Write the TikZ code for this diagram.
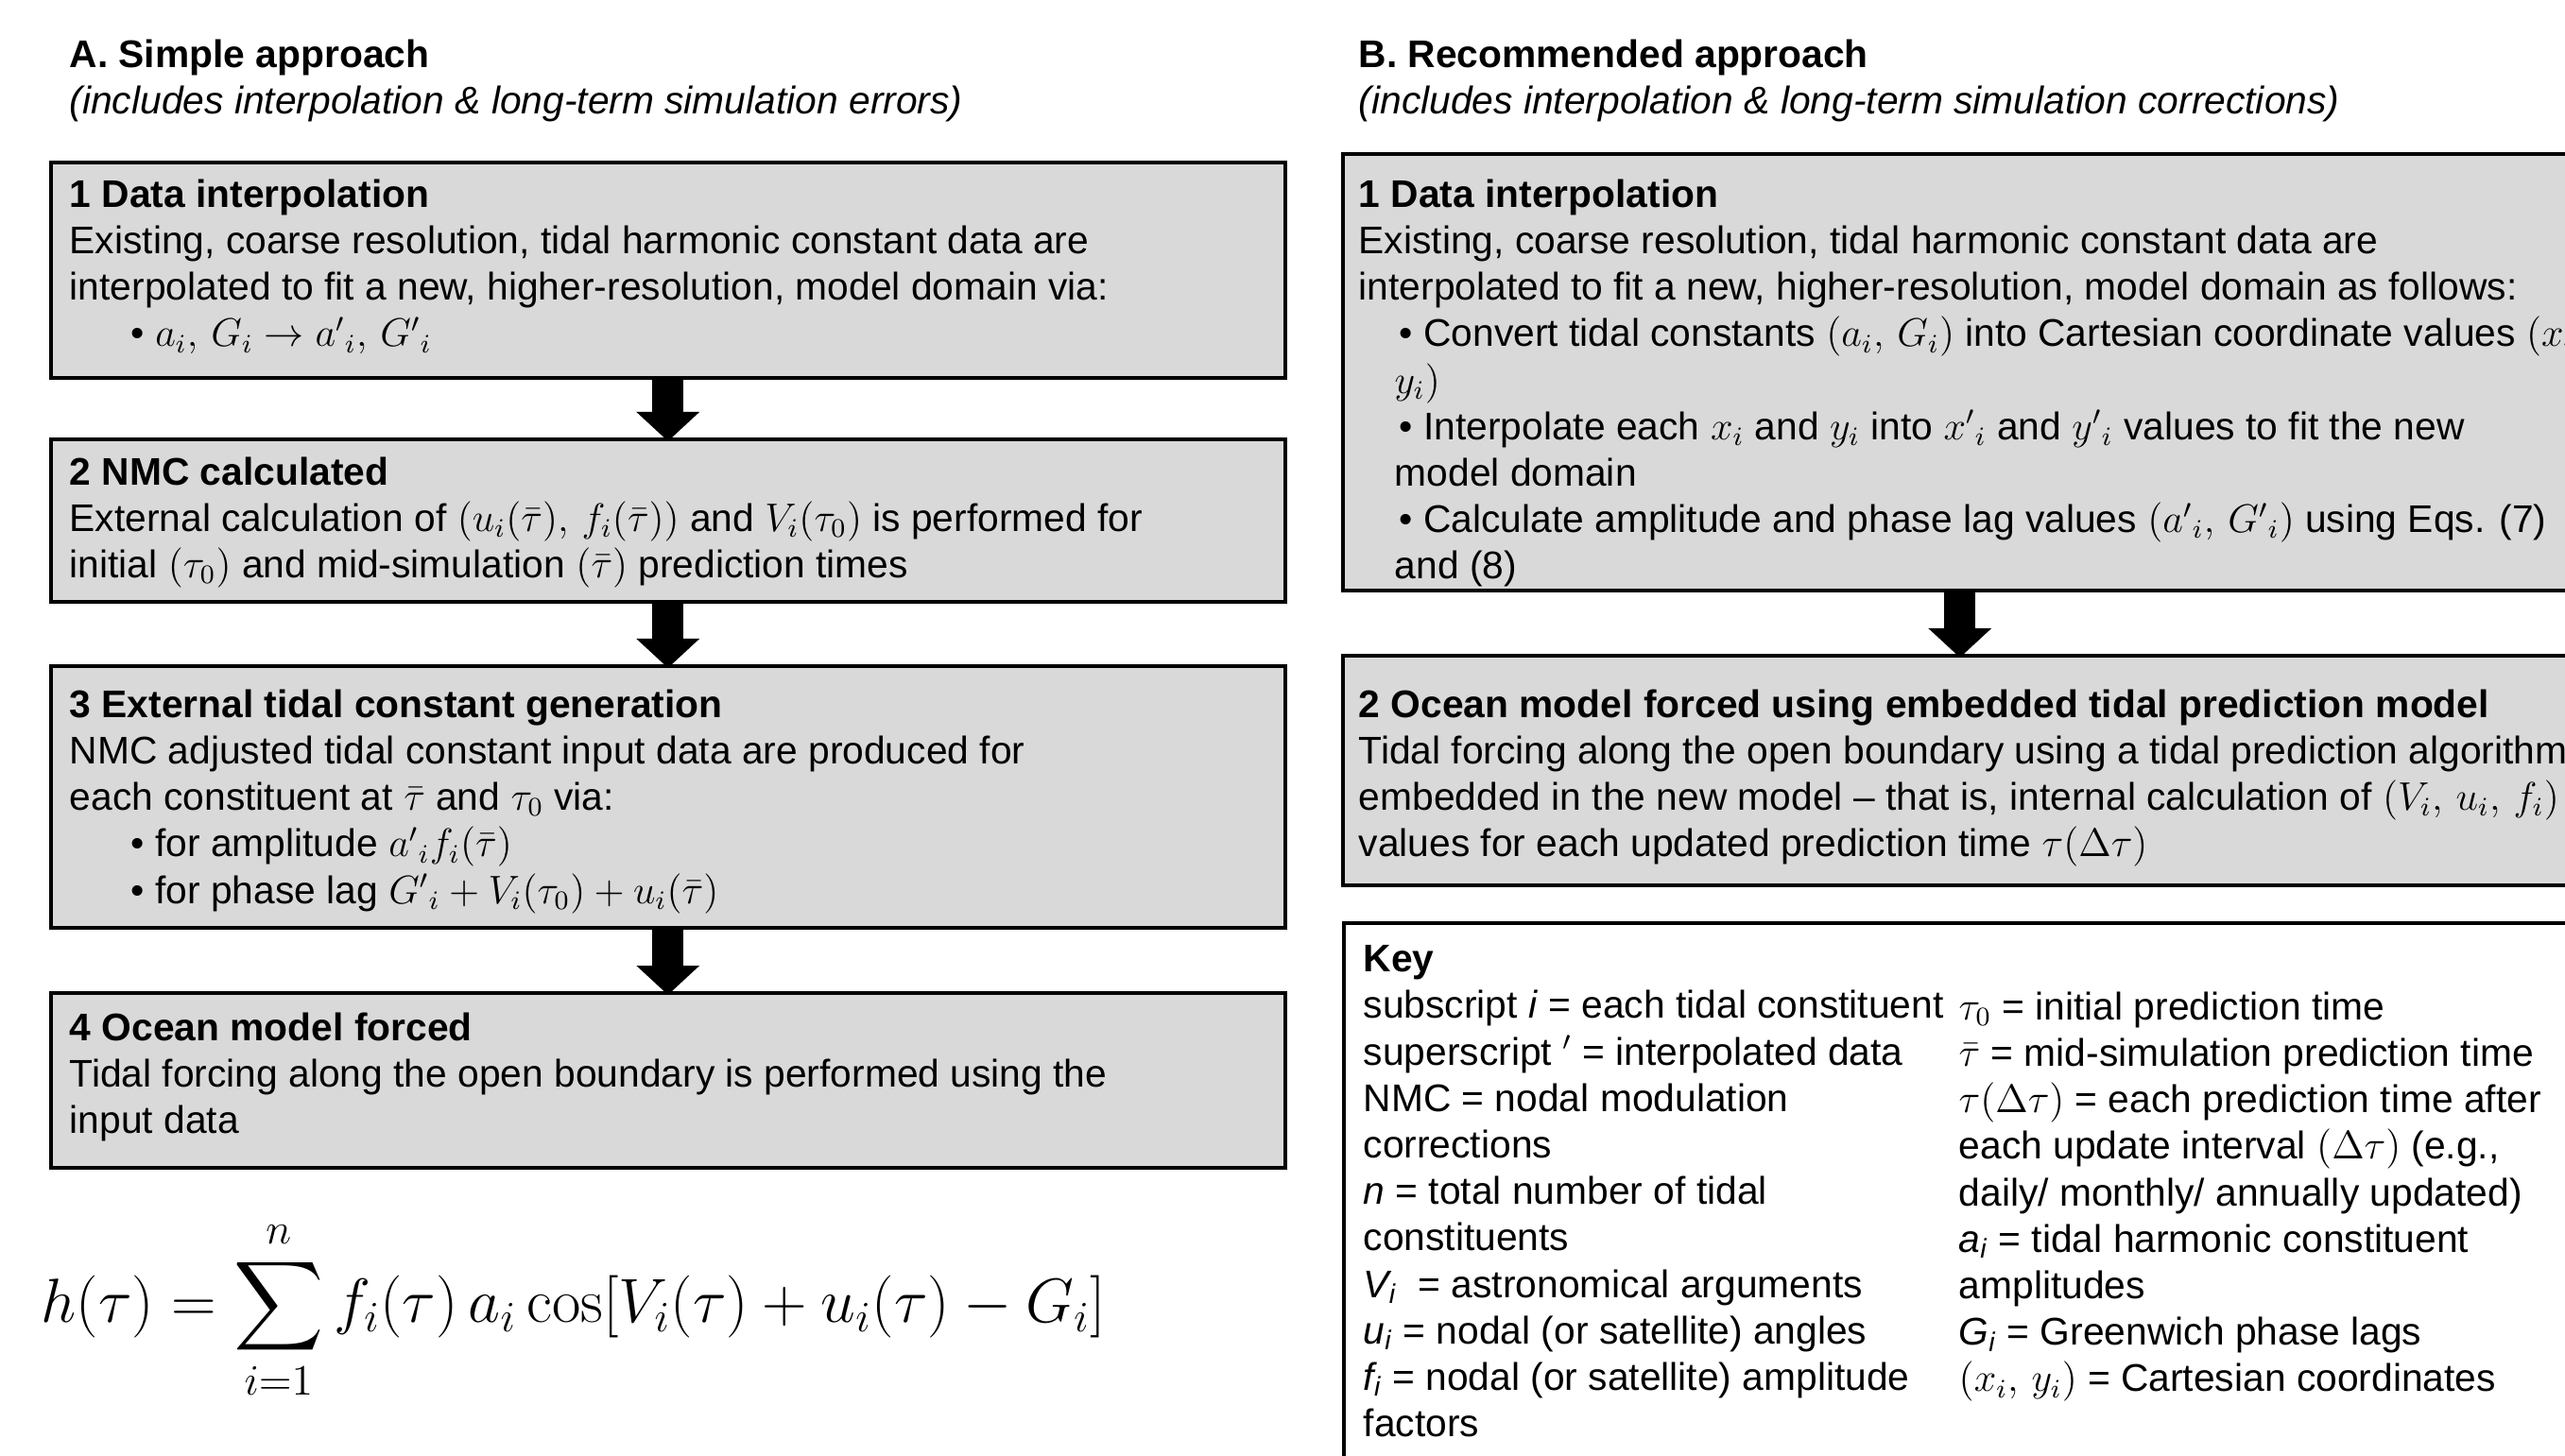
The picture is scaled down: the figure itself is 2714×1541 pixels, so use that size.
\documentclass[tikz,border=0pt]{standalone}
\usepackage[no-math]{fontspec}
\setmainfont{Liberation Sans}
\usepackage{amsmath}
\usetikzlibrary{arrows.meta}
\definecolor{boxgray}{HTML}{D9D9D9}

\begin{document}
\begin{tikzpicture}[x=0.1mm,y=-0.1mm]
    \tikzstyle{stage}=[rectangle,draw,line width=1pt,fill=boxgray,minimum width=130.6mm,inner sep=0pt,anchor=north west]
    \tikzstyle{stagetext}=[anchor=north west,inner sep=0pt,align=left,font=\fontsize{11.6}{14}\selectfont]
    \tikzstyle{flow}=[line width=3.3mm,shorten >=-0.4mm,-{Triangle[width=6.5mm,length=3.1mm]}]
    \useasboundingbox (0,0) rectangle (2714,1541);
    \clip (0,0) rectangle (2714,1541);
    \fill[white] (0,0) rectangle (2714,1541);

    \node (HeadA) at (73,41) [stagetext] {\textbf{A. Simple approach}\\
      \textit{(includes interpolation \& long-term simulation errors)}};
    \node (HeadB) at (1437,41) [stagetext] {\textbf{B. Recommended approach}\\
      \textit{(includes interpolation \& long-term simulation corrections)}};

    \node (InterpA) at (52,170) [stage,minimum height=22.8mm] {};
    \node (NMCA) at (52,463) [stage,minimum height=17.2mm] {};
    \node (GenA) at (52,703) [stage,minimum height=27.7mm] {};
    \node (ForceA) at (52,1049) [stage,minimum height=18.5mm] {};
    \node (InterpB) at (1419,161) [stage,minimum height=46.2mm] {};
    \node (ForceB) at (1419,692) [stage,minimum height=24.3mm] {};
    \node (KeyB) at (1420,975) [stage,fill=white,minimum height=65mm] {};

    \node (InterpAText) at (73,189) [stagetext] {\textbf{1 Data interpolation}\\
      Existing, coarse resolution, tidal harmonic constant data are\\
      interpolated to fit a new, higher-resolution, model domain via:\\
      \hspace*{6.5mm}\textbullet\ $a_i,\, G_i \rightarrow a'{}_i,\, G'{}_i$};
    \node (NMCAText) at (73,483) [stagetext] {\textbf{2 NMC calculated}\\
      External calculation of $(u_i(\bar{\tau}),\, f_i(\bar{\tau}))$ and $V_i(\tau_0)$ is performed for\\
      initial $(\tau_0)$ and mid-simulation $(\bar{\tau})$ prediction times};
    \node (GenAText) at (73,729) [stagetext] {\textbf{3 External tidal constant generation}\\
      NMC adjusted tidal constant input data are produced for\\
      each constituent at $\bar{\tau}$ and $\tau_0$ via:\\
      \hspace*{6.5mm}\textbullet\ for amplitude $a'{}_i f_i(\bar{\tau})$\\
      \hspace*{6.5mm}\textbullet\ for phase lag $G'{}_i + V_i(\tau_0) + u_i(\bar{\tau})$};
    \node (ForceAText) at (73,1071) [stagetext] {\textbf{4 Ocean model forced}\\
      Tidal forcing along the open boundary is performed using the\\
      input data};

    \node (InterpBText) at (1437,189) [stagetext] {\textbf{1 Data interpolation}\\
      Existing, coarse resolution, tidal harmonic constant data are\\
      interpolated to fit a new, higher-resolution, model domain as follows:\\
      \hspace*{4.3mm}\textbullet\ Convert tidal constants $(a_i,\, G_i)$ into Cartesian coordinate values $(x_i,$\\
      \hspace*{3.8mm}$y_i)$\\
      \hspace*{4.3mm}\textbullet\ Interpolate each $x_i$ and $y_i$ into $x'{}_i$ and $y'{}_i$ values to fit the new\\
      \hspace*{3.8mm}model domain\\
      \hspace*{4.3mm}\textbullet\ Calculate amplitude and phase lag values $(a'{}_i,\, G'{}_i)$ using Eqs. (7)\\
      \hspace*{3.8mm}and (8)};
    \node (ForceBText) at (1437,729) [stagetext] {\textbf{2 Ocean model forced using embedded tidal prediction model}\\
      Tidal forcing along the open boundary using a tidal prediction algorithm\\
      embedded in the new model -- that is, internal calculation of $(V_i,\, u_i,\, f_i)$\\
      values for each updated prediction time $\tau(\Delta\tau)$};

    \node (KeyLeft) at (1442,1000) [stagetext] {\textbf{Key}\\
      subscript \textit{i} = each tidal constituent\\
      superscript $'$ = interpolated data\\
      NMC = nodal modulation\\
      corrections\\
      \textit{n} = total number of tidal\\
      constituents\\
      \textit{V\textsubscript{i}} \ = astronomical arguments\\
      \textit{u\textsubscript{i}} = nodal (or satellite) angles\\
      \textit{f\textsubscript{i}} = nodal (or satellite) amplitude\\
      factors};
    \node (KeyRight) at (2072,1049) [stagetext] {$\tau_0$ = initial prediction time\\
      $\bar{\tau}$ = mid-simulation prediction time\\
      $\tau(\Delta\tau)$ = each prediction time after\\
      each update interval $(\Delta\tau)$ (e.g.,\\
      daily/ monthly/ annually updated)\\
      \textit{a\textsubscript{i}} = tidal harmonic constituent\\
      amplitudes\\
      \textit{G\textsubscript{i}} = Greenwich phase lags\\
      $(x_i,\, y_i)$ = Cartesian coordinates};

    \node (SumEq) at (43,1387) [anchor=west,inner sep=0pt,scale=1.086,transform shape] {\fontsize{17.28}{21}\selectfont
      $\displaystyle h(\tau) = \sum_{i=1}^{n} f_i(\tau)\, a_i \cos[V_i(\tau) + u_i(\tau) - G_i]$};

    \draw [flow] (InterpA.south) -- (NMCA.north);
    \draw [flow] (NMCA.south) -- (GenA.north);
    \draw [flow] (GenA.south) -- (ForceA.north);
    \draw [flow] (InterpB.south) -- (ForceB.north);
\end{tikzpicture}
\end{document}
